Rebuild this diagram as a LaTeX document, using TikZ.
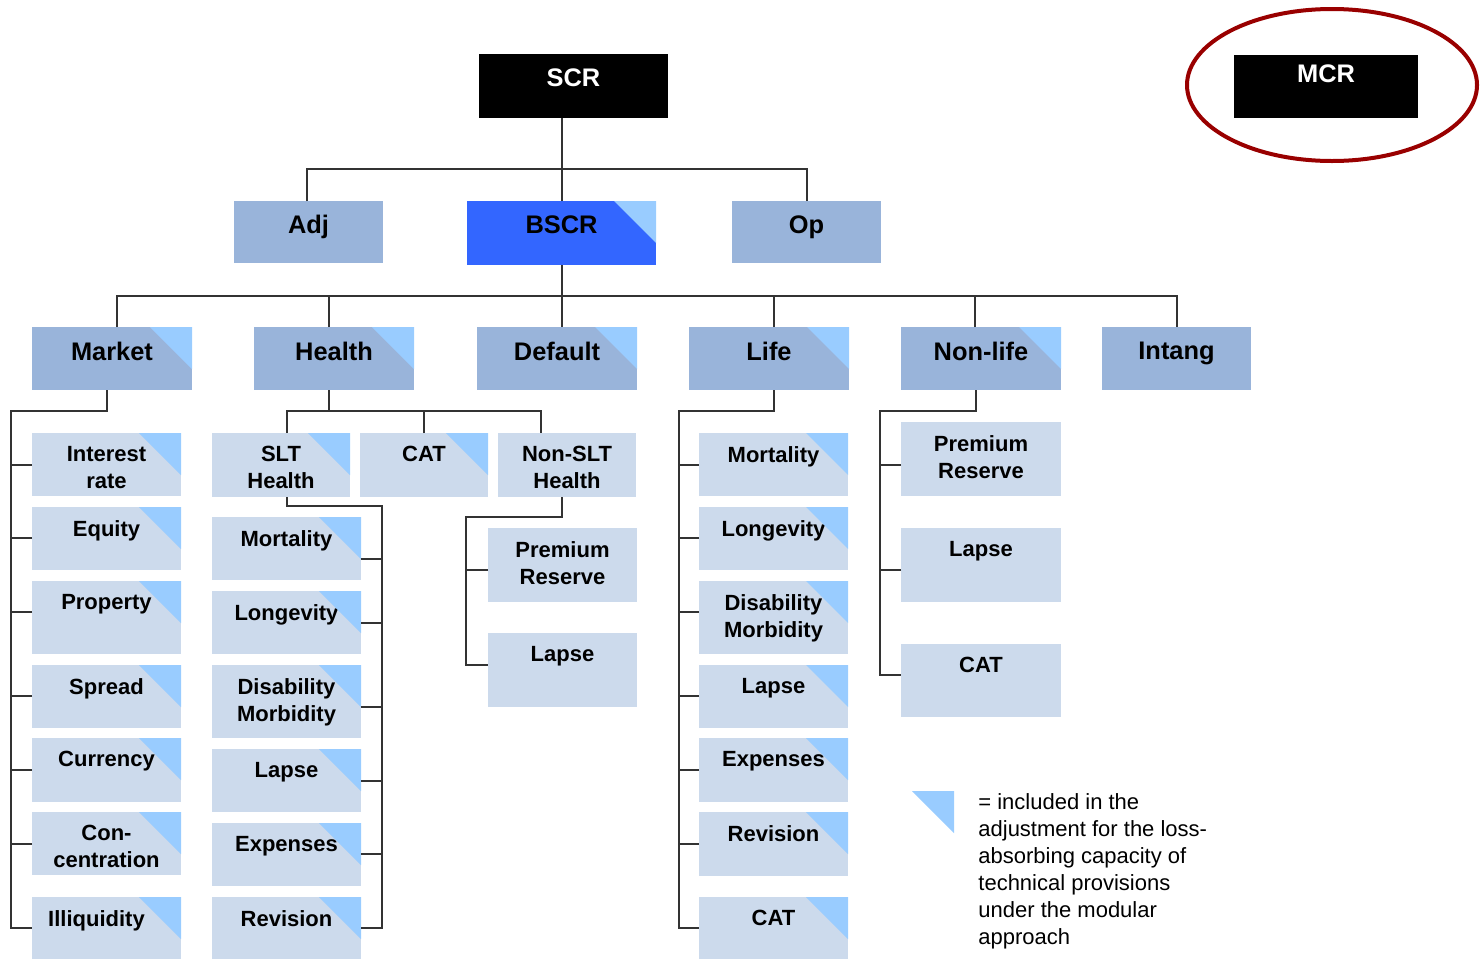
\documentclass[tikz,border=0pt]{standalone}
\usepackage{fontspec}
\setmainfont{Liberation Sans}
\definecolor{midblue}{RGB}{153,180,218}
\definecolor{lightblue}{RGB}{204,218,236}
\definecolor{trifill}{RGB}{153,204,255}
\definecolor{bscrblue}{RGB}{51,102,255}
\definecolor{mcrred}{RGB}{153,0,0}
\tikzset{
  conn/.style={draw=black!80, line width=1pt},
  boxbase/.style={rectangle, draw=none, inner sep=0pt, outer sep=0pt},
  midbox/.style={fill=midblue},
  lightbox/.style={fill=lightblue},
  blackbox/.style={fill=black},
  bluebox/.style={fill=bscrblue},
  toplbl/.style={anchor=north, inner sep=0pt, yshift=-7.5pt, align=center, font=\fontsize{12.7}{15}\selectfont\bfseries},
  scrlbl/.style={toplbl, yshift=0.5pt, text=white},
  sublbl/.style={anchor=north, inner sep=0pt, yshift=-6.5pt, align=center, font=\fontsize{11}{13.5}\selectfont\bfseries},
  legendtxt/.style={anchor=north west, inner sep=0pt, align=left, font=\fontsize{11}{13.5}\selectfont},
}
\newcommand\rbox[8][lightbox]{%
  \node[boxbase,#1,minimum width={(#5-#3)*0.5pt},minimum height={(#6-#4)*0.5pt},anchor=north west] (#2) at (#3,#4) {};
  \node[#8] (#2-t) at (#2.north) {#7};}
\newcommand\ctri[1]{\fill[trifill] (#1.north east) -- ([xshift=-21pt]#1.north east) -- ([yshift=-21pt]#1.north east) -- cycle;}
\begin{document}
\begin{tikzpicture}[x=0.5pt,y=-0.5pt]
\useasboundingbox (0,0) rectangle (1482,959);
% top
\rbox[blackbox]{scr}{479}{54}{668}{118}{SCR}{scrlbl}
\rbox[blackbox]{mcr}{1234}{55}{1418}{118}{MCR}{scrlbl,yshift=2.5pt}
\draw[mcrred, line width=2pt] (1332,85) ellipse [x radius=72.5pt, y radius=38pt];
\rbox[midbox]{adj}{234}{201}{383}{263}{Adj}{toplbl,yshift=0.5pt}
\rbox[bluebox]{bscr}{467}{201}{656}{265}{BSCR}{toplbl,yshift=0.5pt}
\ctri{bscr}
\rbox[midbox]{op}{732}{201}{881}{263}{Op}{toplbl,yshift=0.5pt}
% level 2
\rbox[midbox]{market}{32}{327}{192}{390}{Market}{toplbl}
\rbox[midbox]{health}{254}{327}{414}{390}{Health}{toplbl}
\rbox[midbox]{default}{477}{327}{637}{390}{Default}{toplbl}
\rbox[midbox]{life}{689}{327}{849}{390}{Life}{toplbl}
\rbox[midbox]{nonlife}{901}{327}{1061}{390}{Non-life}{toplbl}
\rbox[midbox]{intang}{1102}{327}{1251}{390}{Intang}{toplbl}
\ctri{market}\ctri{health}\ctri{default}\ctri{life}\ctri{nonlife}
% market
\rbox{ir}{32}{433}{181}{496}{Interest\\rate}{sublbl}
\rbox{eq}{32}{507}{181}{570}{Equity}{sublbl}
\rbox{prop}{32}{581}{181}{654}{Property}{sublbl}
\rbox{spread}{32}{665}{181}{728}{Spread}{sublbl}
\rbox{curr}{32}{738}{181}{802}{Currency}{sublbl}
\rbox{conc}{32}{812}{181}{875}{Con-\\centration}{sublbl}
\rbox{illiq}{32}{897}{181}{959}{Illiquidity}{sublbl,xshift=-5pt}
\ctri{ir}\ctri{eq}\ctri{prop}\ctri{spread}\ctri{curr}\ctri{conc}\ctri{illiq}
% health
\rbox{slt}{212}{433}{350}{497}{SLT\\Health}{sublbl}
\rbox{cat}{360}{433}{488}{497}{CAT}{sublbl}
\rbox{nonslt}{498}{433}{636}{497}{Non-SLT\\Health}{sublbl}
\ctri{slt}\ctri{cat}
\rbox{hmort}{212}{517}{361}{580}{Mortality}{sublbl}
\rbox{hlong}{212}{591}{361}{654}{Longevity}{sublbl}
\rbox{hdis}{212}{665}{361}{738}{Disability\\Morbidity}{sublbl}
\rbox{hlapse}{212}{749}{361}{812}{Lapse}{sublbl}
\rbox{hexp}{212}{823}{361}{886}{Expenses}{sublbl}
\rbox{hrev}{212}{897}{361}{959}{Revision}{sublbl}
\ctri{hmort}\ctri{hlong}\ctri{hdis}\ctri{hlapse}\ctri{hexp}\ctri{hrev}
\rbox{npr}{488}{528}{637}{602}{Premium\\Reserve}{sublbl}
\rbox{nla}{488}{633}{637}{707}{Lapse}{sublbl}
% life
\rbox{lmort}{699}{433}{848}{496}{Mortality}{sublbl}
\rbox{llong}{699}{507}{848}{570}{Longevity}{sublbl}
\rbox{ldis}{699}{581}{848}{654}{Disability\\Morbidity}{sublbl}
\rbox{llapse}{699}{665}{848}{728}{Lapse}{sublbl}
\rbox{lexp}{699}{738}{848}{802}{Expenses}{sublbl}
\rbox{lrev}{699}{812}{848}{876}{Revision}{sublbl}
\rbox{lcat}{699}{897}{848}{959}{CAT}{sublbl}
\ctri{lmort}\ctri{llong}\ctri{ldis}\ctri{llapse}\ctri{lexp}\ctri{lrev}\ctri{lcat}
% non-life
\rbox{nlpr}{901}{422}{1061}{496}{Premium\\Reserve}{sublbl}
\rbox{nlla}{901}{528}{1061}{602}{Lapse}{sublbl}
\rbox{nlcat}{901}{644}{1061}{717}{CAT}{sublbl}
% legend
\fill[trifill] (912,791) -- (954,791) -- (954,833) -- cycle;
\node[legendtxt] (legend) at (978,793) {= included in the\\adjustment for the loss-\\absorbing capacity of\\technical provisions\\under the modular\\approach};
% helper coordinates
\coordinate (b1) at (0,169);
\coordinate (b2) at (0,296);
\coordinate (b3) at (0,411);
\path ([xshift=-0.75pt]adj.north) coordinate (adjin)
      ([xshift=2.5pt]market.north) coordinate (mkin)
      ([xshift=-2.75pt]market.south) coordinate (mkout)
      ([xshift=-2.5pt]health.north) coordinate (hlin)
      ([xshift=-2.5pt]health.south) coordinate (hlout)
      ([xshift=2.5pt]life.north) coordinate (lfin)
      ([xshift=2.5pt]life.south) coordinate (lfout)
      ([xshift=-3pt]nonlife.north) coordinate (nlin)
      ([xshift=-2.5pt]nonlife.south) coordinate (nlout);
\coordinate (mkv) at (11,411);
\coordinate (sltv) at (382,506);
\coordinate (nsv) at (466,517);
\coordinate (lfv) at (679,411);
\coordinate (nlv) at (880,411);
% connectors level 1
\draw[conn] (scr.south -| bscr.north) -- (bscr.north);
\draw[conn] (adjin) |- (op.north |- b1) -- (op.north);
% level 2
\draw[conn] (bscr.south) -- (default.north -| bscr.south);
\draw[conn] (mkin) |- (intang.north |- b2) -- (intang.north);
\draw[conn] (hlin) -- (hlin |- b2);
\draw[conn] (lfin) -- (lfin |- b2);
\draw[conn] (nlin) -- (nlin |- b2);
% market
\draw[conn] (mkout) |- (mkv) |- (illiq.west);
\foreach \n/\yy in {ir/465,eq/538,prop/612,spread/696,curr/770,conc/844}
  \draw[conn] (\n.west |- 0,\yy) -- (mkv |- 0,\yy);
% health
\draw[conn] (hlout) -- (hlout |- b3);
\draw[conn] (slt.north -| 287,0) -- (287,411) -- (541,411) -- (nonslt.north -| 541,0);
\draw[conn] (cat.north) -- (cat.north |- b3);
\draw[conn] (slt.south -| 287,0) |- (sltv) |- (hrev.east |- 0,928);
\foreach \n/\yy in {hmort/559,hlong/623,hdis/707,hlapse/781,hexp/854}
  \draw[conn] (\n.east |- 0,\yy) -- (sltv |- 0,\yy);
\draw[conn] (nonslt.south -| 562,0) |- (nsv) |- (nla.west |- 0,665);
\draw[conn] (npr.west |- 0,570) -- (nsv |- 0,570);
% life
\draw[conn] (lfout) |- (lfv) |- (lcat.west |- 0,928);
\foreach \n/\yy in {lmort/465,llong/538,ldis/612,llapse/696,lexp/770,lrev/844}
  \draw[conn] (\n.west |- 0,\yy) -- (lfv |- 0,\yy);
% non-life
\draw[conn] (nlout) |- (nlv) |- (nlcat.west |- 0,675);
\foreach \n/\yy in {nlpr/465,nlla/570}
  \draw[conn] (\n.west |- 0,\yy) -- (nlv |- 0,\yy);
\end{tikzpicture}
\end{document}
